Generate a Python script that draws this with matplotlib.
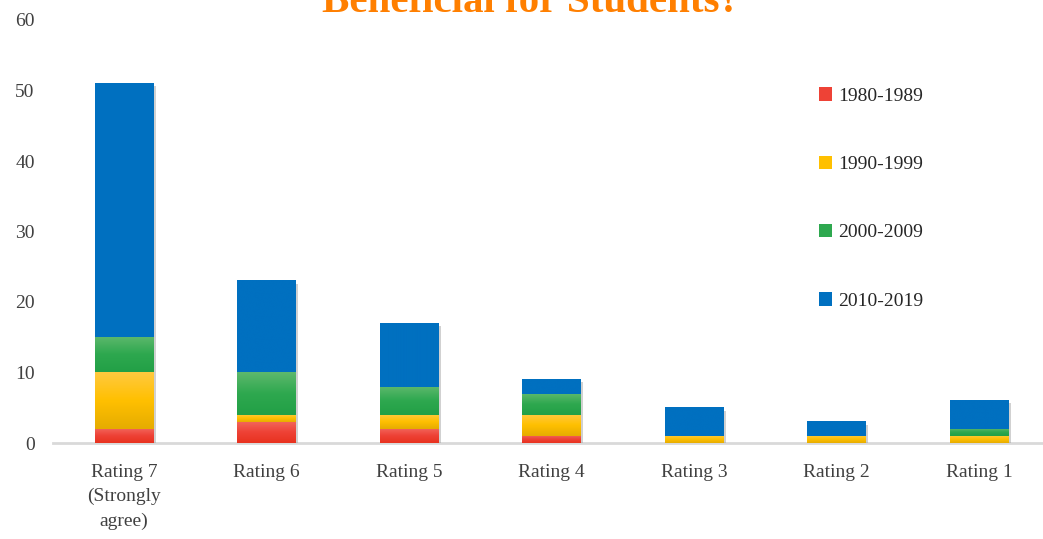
import numpy as np
import matplotlib
matplotlib.use('Agg')
import matplotlib.pyplot as plt
import matplotlib.patheffects as pe
from matplotlib.patches import Patch

# data
ratings = ['Rating 7\n(Strongly\nagree)', 'Rating 6', 'Rating 5', 'Rating 4',
           'Rating 3', 'Rating 2', 'Rating 1']
decades = ['1980-1989', '1990-1999', '2000-2009', '2010-2019']
r1980 = [2, 3, 2, 1, 0, 0, 0]
r1990 = [8, 1, 2, 3, 1, 1, 1]
r2000 = [5, 6, 4, 3, 0, 0, 1]
r2010 = [36, 13, 9, 2, 4, 2, 4]

# gradient stops (top, middle, bottom) for each series
grads = [
    ['#F2665C', '#EE4236', '#E8321F'],
    ['#FFC93F', '#FFC000', '#E6AC00'],
    ['#5DB86C', '#2EA84F', '#22A046'],
    ['#0070C0', '#0070C0', '#0070C0'],
]
mids = ['#EE4236', '#FFC000', '#2EA84F', '#0070C0']

plt.rcParams['font.family'] = ['Liberation Serif', 'DejaVu Serif']

fig = plt.figure(figsize=(10.43, 5.39), dpi=100)
W, H = 1043., 539.
ax = fig.add_axes([52.75 / W, 1 - 443 / H, (1050.25 - 52.75) / W, (443 - 20) / H])

x = np.arange(len(ratings))
bottom = np.zeros(len(ratings))
series = [r1980, r1990, r2000, r2010]
shadow = [pe.SimplePatchShadow(offset=(2, -2), shadow_rgbFace='#9a9a9a', alpha=0.45),
          pe.Normal()]
for vals, g, col in zip(series, grads, mids):
    vals = np.array(vals, dtype=float)
    bars = ax.bar(x, vals, 0.41, bottom=bottom, color=col, zorder=2,
                  linewidth=0, path_effects=shadow)
    cmap = matplotlib.colors.LinearSegmentedColormap.from_list('g', g[::-1])
    grad = np.linspace(0, 1, 64).reshape(-1, 1)
    for b in bars:
        if b.get_height() <= 0:
            continue
        bx, by = b.get_x(), b.get_y()
        ax.imshow(grad, cmap=cmap, origin='lower', aspect='auto', zorder=3,
                  extent=[bx, bx + b.get_width(), by, by + b.get_height()],
                  interpolation='bicubic')
    bottom += vals

ax.set_xlim(-0.5, len(ratings) - 0.5)
ax.set_ylim(0, 60)
ax.set_yticks(range(0, 61, 10))
ax.set_xticks(x)
ax.set_xticklabels(ratings, linespacing=1.55)
ax.tick_params(axis='both', length=0, labelsize=14, colors='#404040')
ax.tick_params(axis='x', pad=15)
ax.tick_params(axis='y', pad=13)
for s in ['top', 'right', 'left']:
    ax.spines[s].set_visible(False)
ax.spines['bottom'].set_color('#D9D9D9')
ax.spines['bottom'].set_linewidth(2)
ax.spines['bottom'].set_zorder(1)

handles = [Patch(facecolor=c, edgecolor='none') for c in mids]
fig.legend(handles, decades, loc='upper left', bbox_to_anchor=(801 / W, 1 - 70 / H),
           frameon=False, fontsize=14, labelspacing=2.6, handlelength=0.7,
           handleheight=0.7, handletextpad=0.3, labelcolor='#262626')

fig.text(531 / W, 1 - 12 / H, 'Beneficial for Students?', ha='center', va='baseline',
         fontsize=29.5, fontweight='bold', color='#FF7F00')

fig.savefig('out.png', dpi=100)
